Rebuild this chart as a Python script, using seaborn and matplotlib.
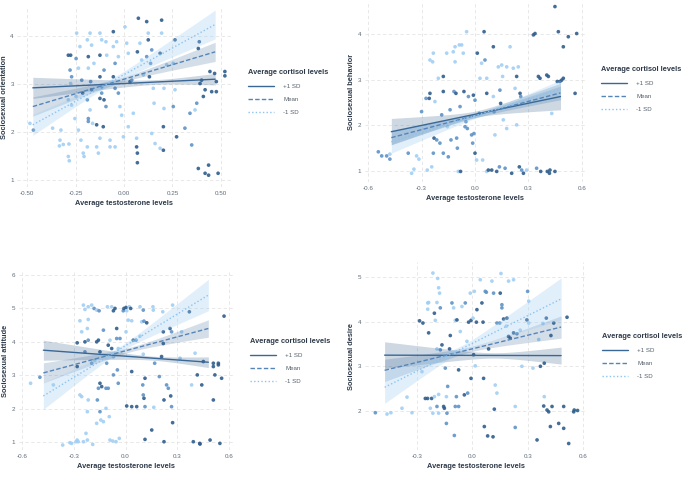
import numpy as np
import pandas as pd
import matplotlib
matplotlib.use("Agg")
import matplotlib.pyplot as plt
import seaborn as sns
from matplotlib.lines import Line2D

sns.set_theme(style="white")
plt.rcParams['font.family'] = ['Liberation Sans', 'DejaVu Sans']

# ---------------- data ----------------
LEVELS = ["+1 SD", "Mean", "-1 SD"]
LEGEND_TITLE = "Average cortisol levels"
XLABEL = "Average testosterone levels"

# Panel 1: Sociosexual orientation
p1_x = [-0.485, -0.467, -0.368, -0.325, -0.33, -0.313, -0.333, -0.284, -0.287, -0.282,
        -0.287, -0.275, -0.278, -0.27, -0.275, -0.287, -0.27, -0.253, -0.244, -0.227,
        -0.247, -0.235, -0.218, -0.213, -0.247, -0.235, -0.222, -0.21, -0.206, -0.189,
        -0.175, -0.189, -0.167, -0.184, -0.155, -0.184, -0.172, -0.167, -0.189, -0.175,
        -0.184, -0.184, -0.162, -0.141, -0.141, -0.132, -0.124, -0.107, -0.124, -0.115,
        -0.093, -0.089, -0.124, -0.103, -0.124, -0.115, -0.115, -0.124, -0.103, -0.093,
        -0.072, -0.072, -0.046, -0.055, -0.055, -0.038, -0.029, -0.046, -0.055, -0.046,
        -0.029, -0.021, -0.012, -0.003, 0.005, 0.014, 0.022, 0.031, 0.040, 0.022,
        0.048, 0.065, 0.074, 0.069, 0.065, 0.069, 0.069, 0.082, 0.091, 0.100,
        0.117, 0.117, 0.125, 0.125, 0.131, 0.137, 0.143, 0.143, 0.151, 0.155,
        0.160, 0.186, 0.194, 0.194, 0.186, 0.203, 0.206, 0.206, 0.203, 0.22,
        0.254, 0.263, 0.254, 0.263, 0.271, 0.314, 0.34, 0.349, 0.366, 0.375,
        0.383, 0.388, 0.392, 0.383, 0.40, 0.409, 0.418, 0.418, 0.436, 0.436,
        0.443, 0.452, 0.467, 0.476, 0.476, 0.485, 0.52, 0.52]
p1_y = [2.18, 2.04, 2.08, 2.04, 1.83, 1.74, 1.71, 1.75, 1.49, 1.40,
        3.60, 3.60, 3.29, 3.15, 3.01, 2.67, 2.56, 2.28, 4.06, 3.78,
        3.53, 3.33, 3.08, 2.81, 2.74, 2.04, 1.83, 1.56, 1.49, 1.69,
        4.06, 3.92, 3.81, 3.57, 3.43, 3.33, 3.05, 2.88, 2.67, 2.46,
        2.28, 2.22, 2.18, 2.15, 1.69, 1.56, 1.87, 2.11, 4.06, 3.92,
        3.88, 3.60, 3.60, 3.29, 3.15, 2.94, 2.81, 2.70, 2.67, 2.53,
        1.83, 1.69, 1.69, 4.09, 3.78, 3.88, 3.57, 3.43, 3.15, 2.91,
        2.81, 2.53, 2.35, 1.90, 4.19, 3.85, 3.64, 3.05, 3.08, 2.11,
        2.39, 1.87, 4.37, 3.67, 1.69, 1.56, 1.36, 3.85, 3.50, 3.19,
        4.30, 3.57, 4.06, 3.92, 3.15, 3.43, 3.71, 1.97, 2.91, 2.60,
        1.76, 1.66, 4.33, 4.06, 3.64, 2.11, 2.91, 2.49, 1.62, 3.40,
        3.43, 3.92, 2.53, 2.88, 1.90, 2.08, 2.39, 1.73, 2.46, 2.60,
        3.74, 3.88, 3.01, 1.24, 3.08, 2.74, 2.88, 1.14, 1.10, 1.31,
        3.26, 2.84, 3.22, 2.84, 3.05, 1.14, 3.26, 3.17]
p1_shade = list("lmllllllll" "ddmmllllll" "mlmdllllll" "llldllmdml" "mmldllldll"
                "lldmdmmddm" "llldlllmdm" "mlllllldml" "lldddddlll" "dmlddmmlll"
                "lldlddlldl" "ldmldmmmlm" "dddddddddd" "dddddddd")

# Panel 2: Sociosexual behavior
p2_x = [-0.543, -0.524, -0.496, -0.478, -0.478, -0.375, -0.356, -0.343, -0.328, -0.315,
        -0.30, -0.275, -0.257, -0.253, -0.268, -0.243, -0.253, -0.238, -0.234, -0.225,
        -0.23, -0.234, -0.215, -0.206, -0.197, -0.187, -0.178, -0.178, -0.178, -0.159,
        -0.155, -0.15, -0.14, -0.135, -0.122, -0.118, -0.112, -0.112, -0.107, -0.103,
        -0.099, -0.094, -0.088, -0.084, -0.081, -0.075, -0.066, -0.062, -0.056, -0.051,
        -0.047, -0.043, -0.037, -0.019, -0.013, -0.009, -0.006, 0.0, 0.0, 0.009,
        0.013, 0.024, 0.028, 0.037, 0.043, 0.051, 0.056, 0.066, 0.066, 0.066,
        0.075, 0.094, 0.103, 0.103, 0.107, 0.112, 0.122, 0.131, 0.137, 0.140,
        0.144, 0.15, 0.155, 0.159, 0.169, 0.178, 0.178, 0.197, 0.206, 0.215,
        0.225, 0.234, 0.234, 0.243, 0.249, 0.253, 0.257, 0.262, 0.272, 0.290,
        0.328, 0.337, 0.346, 0.356, 0.365, 0.369, 0.403, 0.406, 0.412, 0.418,
        0.421, 0.431, 0.449, 0.449, 0.462, 0.468, 0.477, 0.487, 0.496, 0.496,
        0.524, 0.562, 0.571]
p2_y = [1.42, 1.33, 1.33, 1.37, 1.26, 1.39, 0.95, 1.04, 1.33, 1.26,
        2.30, 2.59, 2.59, 2.70, 1.02, 1.09, 3.43, 3.39, 3.58, 2.52,
        1.72, 1.39, 1.68, 3.03, 1.61, 2.23, 3.07, 2.74, 1.39, 3.58,
        1.97, 1.31, 2.34, 1.68, 3.61, 2.74, 3.72, 3.39, 2.70, 1.72,
        1.50, 0.99, 3.76, 2.41, 0.99, 3.76, 3.58, 2.74, 1.97, 2.08,
        4.05, 1.93, 2.63, 1.79, 1.61, 2.66, 1.82, 2.55, 1.39, 1.24,
        3.58, 2.26, 3.03, 3.36, 1.24, 4.05, 3.43, 3.03, 2.70, 0.99,
        1.02, 1.02, 3.72, 2.63, 2.30, 1.79, 0.99, 3.28, 1.09, 2.77,
        2.48, 3.32, 3.07, 2.12, 1.06, 3.28, 1.93, 3.72, 0.95, 3.25,
        2.81, 3.07, 2.01, 3.28, 1.09, 2.70, 2.63, 1.02, 0.95, 1.02,
        3.98, 4.01, 1.06, 3.07, 3.03, 0.99, 3.10, 0.99, 3.07, 0.95,
        1.02, 2.26, 4.60, 0.99, 2.96, 4.05, 2.96, 2.99, 3.03, 3.72,
        3.94, 2.70, 4.01]
p2_shade = list("mmmlmmllll" "mmddllllll" "dmmlmmddml" "lmmmlmlldm" "mllmdlldmm"
                "lmmmmdmmdl" "dmllldmldl" "dddlmldlmm" "dlllmllldl" "ldllddmmdl"
                "ddmddddddd" "dldddddddd" "ddd")

# Panel 3: Sociosexual attitude
p3_x = [-0.55, -0.496, -0.418, -0.364, -0.322, -0.312, -0.287, -0.28, -0.274, -0.244,
        -0.229, -0.221, -0.19, -0.244, -0.235, -0.216, -0.196, -0.182, -0.167, -0.153,
        -0.264, -0.254, -0.221, -0.216, -0.28, -0.235, -0.216, -0.167, -0.157, -0.235,
        -0.28, -0.196, -0.178, -0.148, -0.148, -0.138, -0.157, -0.163, -0.148, -0.216,
        -0.221, -0.254, -0.264, -0.167, -0.143, -0.128, -0.113, -0.094, -0.09, -0.074,
        -0.055, -0.036, -0.105, -0.08, -0.07, -0.061, -0.013, -0.009, 0.003, 0.007,
        0.022, 0.03, -0.128, -0.1, -0.09, -0.08, -0.051, -0.051, -0.07, -0.032,
        -0.042, -0.047, -0.042, -0.07, -0.109, -0.113, -0.1, 0.003, 0.016, 0.036,
        0.045, 0.061, 0.036, 0.007, 0.036, 0.065, 0.084, 0.094, 0.107, 0.123,
        0.103, 0.1, 0.103, 0.107, 0.113, 0.113, 0.084, 0.103, 0.159, 0.161,
        0.152, 0.113, 0.164, 0.169, 0.196, 0.216, 0.219, 0.219, 0.209, 0.223,
        0.223, 0.238, 0.248, 0.258, 0.267, 0.262, 0.267, 0.273, 0.273, 0.316,
        0.325, 0.37, 0.383, 0.393, 0.403, 0.416, 0.43, 0.432, 0.442, 0.451,
        0.49, 0.509, 0.509, 0.518, 0.509, 0.538, 0.538, 0.547, 0.557, 0.571]
p3_y = [2.76, 2.94, 2.71, 0.91, 0.98, 0.96, 1.01, 1.06, 1.01, 1.01,
        1.26, 1.06, 0.93, 5.10, 4.97, 5.05, 5.10, 5.00, 4.95, 4.93,
        4.63, 4.30, 4.40, 4.67, 3.97, 4.00, 4.05, 4.00, 4.05, 3.70,
        3.26, 3.36, 3.44, 3.70, 2.76, 2.66, 2.61, 2.26, 1.91, 2.26,
        1.91, 2.36, 2.41, 1.56, 1.66, 1.61, 2.01, 1.76, 1.06, 1.03,
        1.01, 1.11, 5.05, 5.05, 4.93, 5.00, 4.93, 5.00, 5.03, 4.93,
        5.05, 5.00, 4.35, 3.90, 4.05, 3.80, 4.40, 4.10, 3.55, 4.10,
        3.80, 3.16, 2.76, 3.01, 3.36, 2.61, 2.61, 4.30, 4.65, 4.63,
        4.05, 4.05, 3.11, 2.08, 2.06, 2.06, 4.17, 4.60, 4.62, 4.57,
        3.63, 2.71, 2.41, 2.31, 2.91, 2.06, 5.05, 4.95, 5.05, 4.95,
        1.36, 1.08, 2.04, 3.36, 2.96, 4.90, 4.30, 3.95, 3.56, 1.01,
        2.26, 2.71, 2.61, 4.40, 4.30, 2.38, 2.06, 1.58, 5.10, 3.51,
        4.30, 4.90, 2.71, 1.01, 3.66, 3.01, 0.96, 0.94, 2.71, 3.41,
        1.06, 3.36, 3.26, 3.01, 2.26, 3.36, 3.31, 0.96, 2.91, 4.77]
p3_shade = list("lmllllllll" "lllllllmlm" "llllddmddm" "dmldddmmml" "llllllllll"
                "llllddmddl" "ldmdlddmlm" "lmmmmmmlll" "dmddddllmd" "lmmddmlmll"
                "ddlmmldddd" "dmmdmdmdll" "ldldlddddd" "dddddddddd")

# Panel 4: Sociosexual desire
p4_x = [-0.524, -0.461, -0.44, -0.38, -0.353, -0.326, -0.285, -0.267, -0.272, -0.254,
        -0.242, -0.220, -0.236, -0.241, -0.236, -0.241, -0.213, -0.205, -0.2, -0.187,
        -0.182, -0.177, -0.191, -0.173, -0.191, -0.173, -0.227, -0.213, -0.191, -0.205,
        -0.182, -0.182, -0.164, -0.155, -0.151, -0.14, -0.137, -0.14, -0.146, -0.133,
        -0.123, -0.119, -0.11, -0.101, -0.092, -0.097, -0.086, -0.083, -0.074, -0.092,
        -0.074, -0.065, -0.056, -0.043, -0.038, -0.029, -0.025, -0.02, -0.011, -0.007,
        -0.007, 0.004, 0.007, 0.011, 0.016, 0.022, 0.025, 0.043, 0.052, 0.058,
        0.061, 0.065, 0.070, 0.076, 0.083, 0.088, 0.106, 0.115, 0.112, 0.119,
        0.124, 0.133, 0.133, 0.148, 0.151, 0.155, 0.16, 0.16, 0.169, 0.184,
        0.187, 0.196, 0.196, 0.205, 0.223, 0.223, 0.232, 0.232, 0.241, 0.259,
        0.268, 0.295, 0.299, 0.305, 0.305, 0.328, 0.35, 0.359, 0.368, 0.382,
        0.389, 0.386, 0.389, 0.404, 0.40, 0.413, 0.422, 0.425, 0.44, 0.431,
        0.467, 0.494, 0.494, 0.512, 0.521, 0.548, 0.551, 0.569]
p4_y = [1.96, 1.93, 1.96, 2.06, 2.31, 1.96, 4.02, 3.97, 2.88, 2.28,
        2.28, 2.28, 3.75, 4.42, 4.43, 4.28, 5.09, 4.19, 4.03, 4.97,
        4.76, 4.64, 4.43, 4.31, 3.39, 3.37, 2.06, 1.95, 2.10, 2.32,
        2.37, 1.95, 3.48, 2.10, 2.06, 1.72, 1.95, 2.32, 2.96, 2.55,
        3.39, 3.69, 4.42, 4.31, 4.03, 1.45, 2.32, 4.04, 2.92, 2.10,
        2.10, 3.78, 4.34, 2.36, 4.42, 3.56, 2.40, 3.99, 4.64, 4.03,
        2.73, 4.08, 3.26, 4.68, 3.01, 3.99, 4.27, 4.94, 4.42, 3.99,
        2.73, 1.65, 4.68, 4.66, 1.44, 3.39, 4.91, 4.64, 1.42, 2.04,
        2.58, 2.40, 3.97, 3.97, 4.64, 5.08, 4.38, 4.31, 4.06, 3.90,
        4.08, 4.91, 3.67, 3.63, 4.94, 3.75, 2.10, 1.63, 3.73, 3.81,
        3.00, 4.04, 4.68, 4.46, 3.97, 2.96, 1.35, 3.60, 3.00, 3.96,
        3.07, 2.11, 2.32, 2.02, 4.08, 1.98, 1.65, 3.69, 3.97, 2.10,
        1.72, 1.61, 2.10, 4.10, 1.27, 1.98, 2.02, 2.01]
p4_shade = list("mlllllddld" "dddlllldll" "lllmlmllml" "lldddmmlmm" "ddmllmmddm"
                "mlldmlmdld" "dldllddldd" "ddmmddlmdd" "llmmdlmmdl" "dlddldlmml"
                "ldmllldldl" "ddlddddddd" "dddddddd")

# Simple-slope lines (values at left / right end) and CI half-widths
p1_xr = [-0.47, 0.47]
p1_left = [2.92, 2.53, 2.15]
p1_right = [3.10, 3.67, 4.24]
p1_hw_left = [0.22, 0.20, 0.22]
p1_hw_right = [0.12, 0.20, 0.30]
p1_hw_min = [0.05, 0.05, 0.06]

p2_xr = [-0.47, 0.48]
p2_left = [1.86, 1.73, 1.64]
p2_right = [2.63, 2.71, 2.79]
p2_hw_left = [0.29, 0.15, 0.25]
p2_hw_right = [0.29, 0.15, 0.20]
p2_hw_min = [0.07, 0.05, 0.05]

p3_xr = [-0.476, 0.48]
p3_left = [3.75, 3.07, 2.38]
p3_right = [3.39, 4.40, 5.40]
p3_hw_left = [0.30, 0.30, 0.40]
p3_hw_right = [0.16, 0.26, 0.47]
p3_hw_min = [0.06, 0.07, 0.08]

p4_xr = [-0.474, 0.48]
p4_left = [3.25, 2.91, 2.53]
p4_right = [3.24, 3.88, 4.51]
p4_hw_left = [0.30, 0.25, 0.36]
p4_hw_right = [0.19, 0.25, 0.47]
p4_hw_min = [0.06, 0.06, 0.07]

# ---------------- style ----------------
SHADE_COLORS = {"d": "#2f5d8c", "m": "#5f93c7", "l": "#a1cff4"}
LINE_COLORS = {"+1 SD": "#3a6896", "Mean": "#5585b8", "-1 SD": "#8cc3ef"}
BAND_COLORS = {"+1 SD": "#2f5d8c", "Mean": "#3d6a99", "-1 SD": "#9ccbf2"}
BAND_ALPHA = {"+1 SD": 0.24, "Mean": 0.22, "-1 SD": 0.30}
DASHES = {"+1 SD": "", "Mean": (3.2, 1.6), "-1 SD": (1.0, 1.6)}
LSTYLE = {"+1 SD": "-", "Mean": (0, (3.2, 1.6)), "-1 SD": (0, (1.0, 1.6))}
TITLE_COLOR = "#2e3a4a"
TICK_COLOR = "#5f6b78"

W, H = 685, 478
fig = plt.figure(figsize=(W / 100, H / 100), dpi=100)


def px_box(l, t, r, b):
    return [l / W, 1 - b / H, (r - l) / W, (b - t) / H]


def band_hw(xs, xl, xr, hl, hr, h0):
    a = np.sqrt(max(hl ** 2 - h0 ** 2, 1e-6))
    b = np.sqrt(max(hr ** 2 - h0 ** 2, 1e-6))
    s1 = (a + b) / (xr - xl)
    xc = xl + a / s1
    return np.sqrt(h0 ** 2 + (s1 * (xs - xc)) ** 2)


panels = [
    dict(box=px_box(17.3, 7.2, 230.7, 187.2), xlim=(-0.55, 0.55), ylim=(0.85, 4.6),
         xticks=[-0.5, -0.25, 0, 0.25, 0.5], xfmt="{:.2f}", yticks=[1, 2, 3, 4],
         ylabel="Sociosexual orientation", x=p1_x, y=p1_y, s=p1_shade,
         xr=p1_xr, left=p1_left, right=p1_right, hl=p1_hw_left, hr=p1_hw_right, h0=p1_hw_min,
         leg=(248, 69)),
    dict(box=px_box(364.6, 1.1, 585.4, 182.4), xlim=(-0.62, 0.62), ylim=(0.75, 4.72),
         xticks=[-0.6, -0.3, 0, 0.3, 0.6], xfmt="{:.1f}", yticks=[1, 2, 3, 4],
         ylabel="Sociosexual behavior", x=p2_x, y=p2_y, s=p2_shade,
         xr=p2_xr, left=p2_left, right=p2_right, hl=p2_hw_left, hr=p2_hw_right, h0=p2_hw_min,
         leg=(601, 66)),
    dict(box=px_box(18.5, 271.7, 232.5, 450.4), xlim=(-0.62, 0.62), ylim=(0.75, 6.1),
         xticks=[-0.6, -0.3, 0, 0.3, 0.6], xfmt="{:.1f}", yticks=[1, 2, 3, 4, 5, 6],
         ylabel="Sociosexual attitude", x=p3_x, y=p3_y, s=p3_shade,
         xr=p3_xr, left=p3_left, right=p3_right, hl=p3_hw_left, hr=p3_hw_right, h0=p3_hw_min,
         leg=(250, 338)),
    dict(box=px_box(365, 261.9, 587, 450.2), xlim=(-0.58, 0.62), ylim=(1.12, 5.34),
         xticks=[-0.3, 0, 0.3, 0.6], xfmt="{:.1f}", yticks=[2, 3, 4, 5],
         ylabel="Sociosexual desire", x=p4_x, y=p4_y, s=p4_shade,
         xr=p4_xr, left=p4_left, right=p4_right, hl=p4_hw_left, hr=p4_hw_right, h0=p4_hw_min,
         leg=(602, 333)),
]

for P in panels:
    ax = fig.add_axes(P["box"])
    ax.set_xlim(*P["xlim"])
    ax.set_ylim(*P["ylim"])
    ax.set_axisbelow(True)
    ax.grid(True, ls=(0, (4, 3)), color="#e4e4e4", lw=0.6)
    for sp in ax.spines.values():
        sp.set_visible(False)

    df = pd.DataFrame({"x": P["x"], "y": P["y"], "shade": P["s"]})
    sns.scatterplot(data=df, x="x", y="y", hue="shade", palette=SHADE_COLORS,
                    s=7, linewidth=0, alpha=0.9, legend=False, ax=ax, zorder=2)

    xs = np.linspace(P["xr"][0], P["xr"][1], 60)
    rows = []
    for i, lev in enumerate(LEVELS):
        ys = P["left"][i] + (P["right"][i] - P["left"][i]) * (xs - xs[0]) / (xs[-1] - xs[0])
        hw = band_hw(xs, xs[0], xs[-1], P["hl"][i], P["hr"][i], P["h0"][i])
        ax.fill_between(xs, ys - hw, ys + hw, color=BAND_COLORS[lev],
                        alpha=BAND_ALPHA[lev], lw=0, zorder=3)
        rows.append(pd.DataFrame({"x": xs, "y": ys, "level": lev}))
    dl = pd.concat(rows, ignore_index=True)
    sns.lineplot(data=dl, x="x", y="y", hue="level", style="level",
                 palette=LINE_COLORS, dashes=DASHES, lw=1.0, legend=False,
                 estimator=None, sort=False, ax=ax, zorder=4)

    ax.set_xticks(P["xticks"])
    ax.set_xticklabels([P["xfmt"].format(v) for v in P["xticks"]])
    ax.set_yticks(P["yticks"])
    ax.set_yticklabels([str(v) for v in P["yticks"]])
    ax.tick_params(axis="both", length=0, pad=2.5, labelsize=4.5, labelcolor=TICK_COLOR)
    ax.set_xlabel(XLABEL, fontsize=5.3, fontweight="bold", color=TITLE_COLOR, labelpad=3)
    ax.set_ylabel(P["ylabel"], fontsize=5.3, fontweight="bold", color=TITLE_COLOR, labelpad=2)

    handles = [Line2D([0], [0], color=LINE_COLORS[l], lw=1.0, ls=LSTYLE[l]) for l in LEVELS]
    lx, ly = P["leg"]
    leg = ax.legend(handles, LEVELS, title=LEGEND_TITLE, loc="upper left",
                    bbox_to_anchor=(lx / W, 1 - ly / H), bbox_transform=fig.transFigure,
                    frameon=False, fontsize=4.4, handlelength=4.2, handletextpad=1.6,
                    labelspacing=1.25, borderpad=0, borderaxespad=0,
                    title_fontproperties={"weight": "bold", "size": 5.3})
    leg._legend_box.align = "left"
    leg.get_title().set_color(TITLE_COLOR)
    for t in leg.get_texts():
        t.set_color("#555f6a")

fig.savefig("out.png", dpi=100)
